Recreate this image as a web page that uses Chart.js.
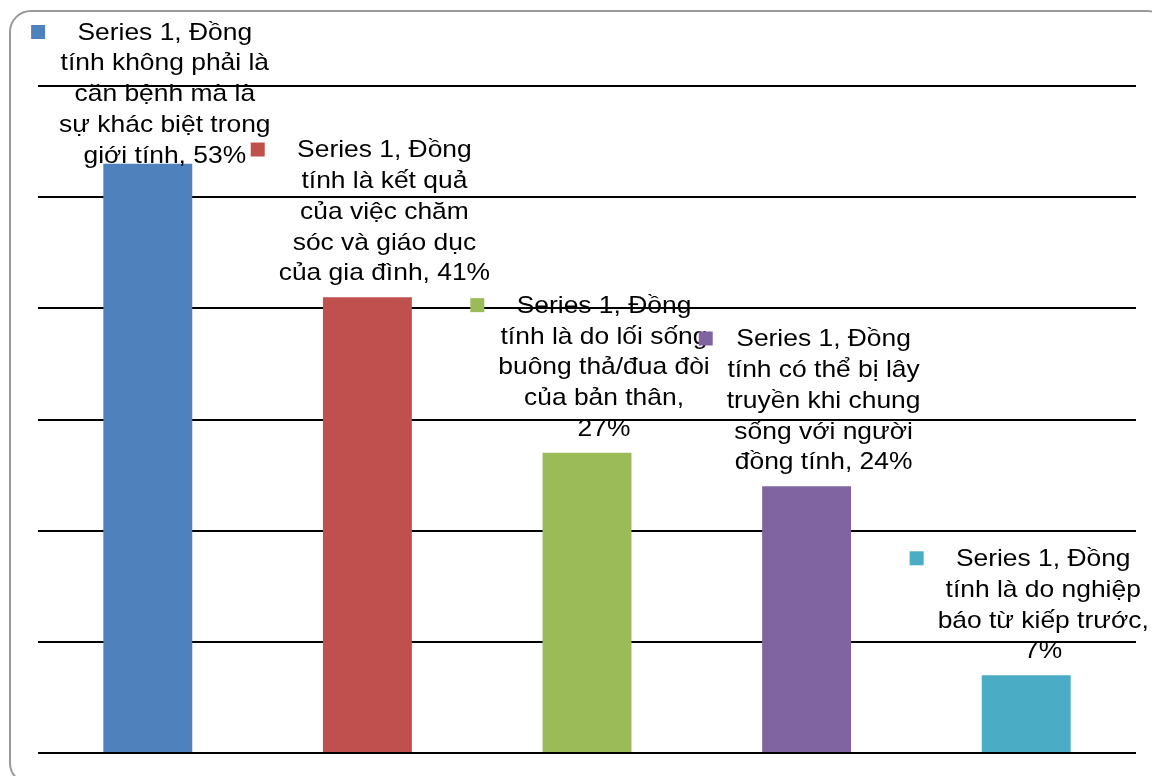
<!DOCTYPE html>
<html>
<head>
<meta charset="utf-8">
<script src="https://cdn.jsdelivr.net/npm/chart.js@4/dist/chart.umd.min.js"></script>
<style>
  html, body { margin: 0; padding: 0; background: #fff; overflow: hidden; }
  #frame {
    position: absolute; left: 9px; top: 10px; width: 1160px; height: 775px;
    border: 2px solid #999; border-radius: 22px; box-sizing: border-box;
  }
  #wrap { position: absolute; left: 0; top: 0; width: 1152px; height: 776px; }
</style>
</head>
<body>
<div id="frame"></div>
<div id="wrap"><canvas id="chart"></canvas></div>
<script>
const seriesName = "Series 1";
// category names, split where the label wraps
const categoryLines = [
  ["Đồng", "tính không phải là", "căn bệnh mà là", "sự khác biệt trong", "giới tính"],
  ["Đồng", "tính là kết quả", "của việc chăm", "sóc và giáo dục", "của gia đình"],
  ["Đồng", "tính là do lối sống", "buông thả/đua đòi", "của bản thân"],
  ["Đồng", "tính có thể bị lây", "truyền khi chung", "sống với người", "đồng tính"],
  ["Đồng", "tính là do nghiệp", "báo từ kiếp trước"],
];
const valueOnOwnLine = [false, false, true, false, true];
const values = [53, 41, 27, 24, 7];
const colors = ["#4F81BD", "#C0504D", "#9BBB59", "#8064A2", "#4BACC6"];

const categories = categoryLines.map(l => l.join(" "));

function labelLines(i) {
  const lines = categoryLines[i].slice();
  lines[0] = seriesName + ", " + lines[0];
  const v = values[i] + "%";
  if (valueOnOwnLine[i]) {
    lines[lines.length - 1] += ",";
    lines.push(v);
  } else {
    lines[lines.length - 1] += ", " + v;
  }
  return lines;
}

// labels above each bar: colour square + centred wrapped text
const barLabels = {
  id: "barLabels",
  afterDatasetsDraw(chart) {
    const ctx = chart.ctx;
    const meta = chart.getDatasetMeta(0);
    const sx = 1.1, lineH = 30.8, box = 14, gap = 14;
    ctx.save();
    ctx.font = '24px "Liberation Sans", Arial, sans-serif';
    ctx.fillStyle = "#000";
    ctx.textAlign = "center";
    ctx.textBaseline = "middle";
    meta.data.forEach((bar, i) => {
      const lines = labelLines(i);
      const maxW = Math.max(...lines.map(t => ctx.measureText(t).width * sx));
      let first = bar.y - 23.5 - (lines.length - 1) * lineH;
      if (first < 33) first = 33;
      const left = bar.x + 3 - (box + gap + maxW) / 2;
      ctx.fillStyle = colors[i];
      ctx.fillRect(left, first - box / 2 - 1, box, box);
      ctx.fillStyle = "#000";
      const cx = left + box + gap + maxW / 2;
      lines.forEach((t, k) => {
        ctx.save();
        ctx.translate(cx, first + k * lineH);
        ctx.scale(sx, 1);
        ctx.fillText(t, 0, 0);
        ctx.restore();
      });
    });
    ctx.restore();
  }
};

new Chart(document.getElementById("chart"), {
  type: "bar",
  data: {
    labels: categories,
    datasets: [{
      label: seriesName,
      data: values,
      backgroundColor: colors,
      borderWidth: 0,
      barPercentage: 0.405,
      categoryPercentage: 1,
    }],
  },
  options: {
    responsive: true,
    maintainAspectRatio: false,
    animation: false,
    layout: { padding: { left: 38, right: 16, top: 86, bottom: 23 } },
    plugins: { legend: { display: false }, tooltip: { enabled: false } },
    scales: {
      x: { display: false },
      y: {
        min: 0,
        max: 60,
        ticks: { display: false, stepSize: 10 },
        grid: { color: "#000", lineWidth: 2, drawTicks: false },
        border: { display: false },
      },
    },
  },
  plugins: [barLabels],
});
</script>
</body>
</html>
